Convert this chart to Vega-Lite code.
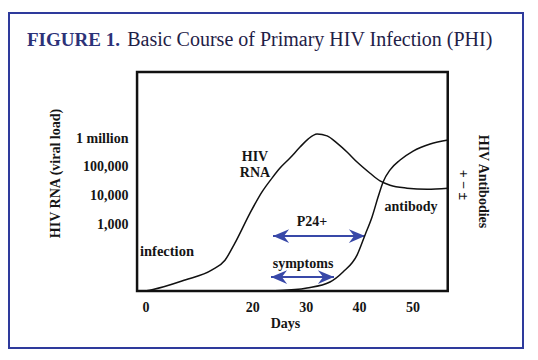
{
  "$schema": "https://vega.github.io/schema/vega-lite/v6.json",
  "width": 538,
  "height": 360,
  "autosize": {"type": "fit", "contains": "padding"},
  "padding": {"left": 9, "top": 13, "right": 15, "bottom": 12},
  "background": "white",
  "config": {
    "view": {"stroke": "#2e3a9c", "strokeWidth": 2},
    "font": "Liberation Serif",
    "axis": {"grid": false, "domain": false, "ticks": false, "tickSize": 0,
      "labelFont": "Liberation Serif", "labelFontSize": 14, "labelFontWeight": "bold", "labelColor": "#151515",
      "titleFont": "Liberation Serif", "titleFontSize": 14, "titleFontWeight": "bold", "titleColor": "#151515"}
  },
  "datasets": {
    "rna": [
      {"d": -0.11, "v": 0.68}, {"d": 1.39, "v": 0.73}, {"d": 7.38, "v": 1.06}, {"d": 12.44, "v": 1.41},
      {"d": 14.87, "v": 1.75}, {"d": 16.75, "v": 2.35}, {"d": 19.56, "v": 3.39}, {"d": 21.81, "v": 4.13},
      {"d": 23.68, "v": 4.61}, {"d": 25.18, "v": 4.96}, {"d": 27.05, "v": 5.31}, {"d": 28.93, "v": 5.69},
      {"d": 30.43, "v": 5.97}, {"d": 32.12, "v": 6.15}, {"d": 33.99, "v": 6.08}, {"d": 35.86, "v": 5.83},
      {"d": 37.73, "v": 5.52}, {"d": 39.61, "v": 5.17}, {"d": 42.05, "v": 4.78}, {"d": 43.92, "v": 4.51},
      {"d": 45.8, "v": 4.36}, {"d": 48.98, "v": 4.26}, {"d": 52.73, "v": 4.22}, {"d": 56.66, "v": 4.26}
    ],
    "antibody": [
      {"d": 19.56, "level": 0}, {"d": 25.18, "level": 0.23}, {"d": 30.24, "level": 1.37}, {"d": 34.54, "level": 4.11},
      {"d": 36.98, "level": 8.68}, {"d": 39.61, "level": 16.4}, {"d": 41.11, "level": 25.6}, {"d": 42.42, "level": 33.8},
      {"d": 43.55, "level": 42.9}, {"d": 44.49, "level": 49.8}, {"d": 45.8, "level": 55.3}, {"d": 47.68, "level": 59.8},
      {"d": 50.12, "level": 63.9}, {"d": 53.31, "level": 67.1}, {"d": 56.66, "level": 68.9}
    ],
    "labels": [
      {"d": 20.49, "v": 5.345, "text": "HIV"},
      {"d": 20.49, "v": 4.79, "text": "RNA"},
      {"d": 31.17, "v": 3.08, "text": "P24+"},
      {"d": 29.49, "v": 1.617, "text": "symptoms"},
      {"d": 49.72, "v": 3.6, "text": "antibody"}
    ],
    "leftlabels": [
      {"d": -1.05, "v": 2.035, "text": "infection"}
    ],
    "arrows": [
      {"name": "P24+", "d": 23.87, "d2": 41.1, "v": 2.59},
      {"name": "symptoms", "d": 23.49, "d2": 35.29, "v": 1.16}
    ],
    "heads": [
      {"d": 23.87, "v": 2.59, "dir": "left"}, {"d": 41.1, "v": 2.59, "dir": "right"},
      {"d": 23.49, "v": 1.16, "dir": "left"}, {"d": 35.29, "v": 1.16, "dir": "right"}
    ],
    "figlabel": [{"d": -22.22, "v": 9.212, "text": "FIGURE 1."}],
    "heading": [{"d": -3.45, "v": 9.212, "text": "Basic Course of Primary HIV Infection (PHI)"}],
    "signs": [{"d": 59.46, "v": 4.37, "text": "+ − ±"}]
  },
  "layer": [
    {
      "layer": [
        {
          "data": {"values": [{"d0": -1.6, "d1": 56.6, "v0": 0.676, "v1": 8.31}]},
          "mark": {"type": "rect", "fill": null, "fillOpacity": 0, "stroke": "#111111", "strokeWidth": 2.5},
          "encoding": {
            "x": {"field": "d0", "type": "quantitative",
              "scale": {"domain": [-25.59, 70.7], "nice": false, "zero": false},
              "axis": {"orient": "bottom", "values": [0, 20, 30, 40, 50], "offset": -57, "labelPadding": 16,
                "labelBaseline": "middle", "title": "Days", "titleX": 276, "titleY": 32, "titleBaseline": "middle"}},
            "x2": {"field": "d1"},
            "y": {"field": "v0", "type": "quantitative",
              "scale": {"domain": [-1.31, 10.362], "nice": false, "zero": false},
              "axis": {"orient": "left", "values": [3, 4, 5, 6], "offset": -128, "labelPadding": 9,
                "labelBaseline": "middle",
                "labelExpr": "datum.value == 6 ? '1 million' : datum.value == 5 ? '100,000' : datum.value == 4 ? '10,000' : '1,000'",
                "title": "HIV RNA (viral load)", "titleX": -82, "titleY": 160, "titleAngle": -90, "titleBaseline": "middle", "titleAlign": "center"}},
            "y2": {"field": "v1"}
          }
        },
        {
          "data": {"name": "rna"},
          "mark": {"type": "line", "interpolate": "monotone", "color": "#111111", "strokeWidth": 1.5},
          "encoding": {
            "x": {"field": "d", "type": "quantitative", "scale": {"domain": [-25.59, 70.7], "nice": false, "zero": false}},
            "y": {"field": "v", "type": "quantitative", "scale": {"domain": [-1.31, 10.362], "nice": false, "zero": false}}
          }
        },
        {
          "data": {"name": "arrows"},
          "mark": {"type": "rule", "color": "#3848a8", "strokeWidth": 2},
          "encoding": {
            "x": {"field": "d", "type": "quantitative", "scale": {"domain": [-25.59, 70.7], "nice": false, "zero": false}},
            "x2": {"field": "d2"},
            "y": {"field": "v", "type": "quantitative", "scale": {"domain": [-1.31, 10.362], "nice": false, "zero": false}}
          }
        },
        {
          "data": {"name": "heads"},
          "mark": {"type": "point", "filled": true, "color": "#3848a8", "opacity": 1, "size": 260, "strokeWidth": 0},
          "encoding": {
            "x": {"field": "d", "type": "quantitative", "scale": {"domain": [-25.59, 70.7], "nice": false, "zero": false}},
            "y": {"field": "v", "type": "quantitative", "scale": {"domain": [-1.31, 10.362], "nice": false, "zero": false}},
            "shape": {"field": "dir", "type": "nominal", "legend": null,
              "scale": {"domain": ["left", "right"], "range": ["M 0 0 L 2 -0.85 L 1.35 0 L 2 0.85 Z", "M 0 0 L -2 -0.85 L -1.35 0 L -2 0.85 Z"]}}
          }
        },
        {
          "data": {"name": "labels"},
          "mark": {"type": "text", "font": "Liberation Serif", "fontSize": 14, "fontWeight": "bold", "color": "#151515", "align": "center", "baseline": "middle"},
          "encoding": {
            "x": {"field": "d", "type": "quantitative", "scale": {"domain": [-25.59, 70.7], "nice": false, "zero": false}},
            "y": {"field": "v", "type": "quantitative", "scale": {"domain": [-1.31, 10.362], "nice": false, "zero": false}},
            "text": {"field": "text"}
          }
        },
        {
          "data": {"name": "leftlabels"},
          "mark": {"type": "text", "font": "Liberation Serif", "fontSize": 14.5, "fontWeight": "bold", "color": "#151515", "align": "left", "baseline": "middle"},
          "encoding": {
            "x": {"field": "d", "type": "quantitative", "scale": {"domain": [-25.59, 70.7], "nice": false, "zero": false}},
            "y": {"field": "v", "type": "quantitative", "scale": {"domain": [-1.31, 10.362], "nice": false, "zero": false}},
            "text": {"field": "text"}
          }
        },
        {
          "data": {"name": "figlabel"},
          "mark": {"type": "text", "font": "Liberation Serif", "fontSize": 19, "fontWeight": "bold", "color": "#2c3278", "align": "left", "baseline": "alphabetic"},
          "encoding": {
            "x": {"field": "d", "type": "quantitative", "scale": {"domain": [-25.59, 70.7], "nice": false, "zero": false}},
            "y": {"field": "v", "type": "quantitative", "scale": {"domain": [-1.31, 10.362], "nice": false, "zero": false}},
            "text": {"field": "text"}
          }
        },
        {
          "data": {"name": "heading"},
          "mark": {"type": "text", "font": "Liberation Serif", "fontSize": 20, "fontWeight": "normal", "color": "#1f2147", "align": "left", "baseline": "alphabetic"},
          "encoding": {
            "x": {"field": "d", "type": "quantitative", "scale": {"domain": [-25.59, 70.7], "nice": false, "zero": false}},
            "y": {"field": "v", "type": "quantitative", "scale": {"domain": [-1.31, 10.362], "nice": false, "zero": false}},
            "text": {"field": "text"}
          }
        },
        {
          "data": {"name": "signs"},
          "mark": {"type": "text", "font": "Liberation Serif", "fontSize": 14, "fontWeight": "bold", "color": "#151515", "angle": 90, "align": "center", "baseline": "middle"},
          "encoding": {
            "x": {"field": "d", "type": "quantitative", "scale": {"domain": [-25.59, 70.7], "nice": false, "zero": false}},
            "y": {"field": "v", "type": "quantitative", "scale": {"domain": [-1.31, 10.362], "nice": false, "zero": false}},
            "text": {"field": "text"}
          }
        }
      ]
    },
    {
      "data": {"name": "antibody"},
      "mark": {"type": "line", "interpolate": "monotone", "color": "#111111", "strokeWidth": 1.5},
      "encoding": {
        "x": {"field": "d", "type": "quantitative", "scale": {"domain": [-25.59, 70.7], "nice": false, "zero": false}},
        "y": {"field": "level", "type": "quantitative",
          "scale": {"domain": [-26.03, 126.94], "nice": false, "zero": false},
          "axis": {"orient": "right", "offset": -75, "labels": false, "title": "HIV Antibodies",
            "titleX": 34, "titleY": 168, "titleAngle": 90, "titleBaseline": "middle", "titleAlign": "center"}}
      }
    }
  ],
  "resolve": {"scale": {"y": "independent", "shape": "independent"}}
}
